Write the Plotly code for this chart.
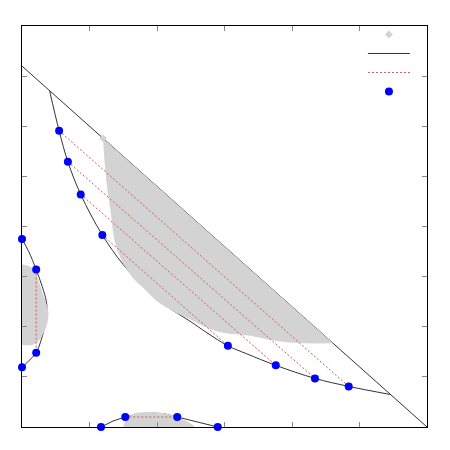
import plotly.graph_objects as go

# main binodal curve (left branch -> right branch)
main_x = [0.041, 0.055, 0.068, 0.087, 0.119, 0.150, 0.182, 0.212, 0.249, 0.274,
          0.305, 0.333, 0.376, 0.434, 0.484, 0.545]
main_y = [0.670, 0.591, 0.529, 0.464, 0.383, 0.324, 0.277, 0.243, 0.211, 0.188,
          0.162, 0.146, 0.123, 0.097, 0.081, 0.065]

# small left curve
left_x = [0.0, 0.010, 0.021, 0.030, 0.036, 0.037, 0.034, 0.028, 0.021, 0.010, 0.0]
left_y = [0.375, 0.350, 0.314, 0.280, 0.251, 0.231, 0.201, 0.172, 0.148, 0.132, 0.119]

# small bottom curve
bot_x = [0.117, 0.135, 0.153, 0.175, 0.193, 0.212, 0.230, 0.261, 0.290]
bot_y = [0.0, 0.012, 0.020, 0.026, 0.028, 0.026, 0.020, 0.010, 0.0]

# boundary line
edge_x = [0.0, 0.6]
edge_y = [0.72, 0.0]

# shaded (unstable) regions
big_x = [0.120, 0.123, 0.127, 0.132, 0.136, 0.142, 0.150, 0.164, 0.182, 0.200,
         0.224, 0.249, 0.274, 0.298, 0.338, 0.367, 0.401, 0.461]
big_y = [0.576, 0.518, 0.468, 0.423, 0.379, 0.350, 0.326, 0.298, 0.275, 0.251,
         0.231, 0.215, 0.198, 0.188, 0.182, 0.174, 0.168, 0.167]
lg_x = [0.0, 0.007, 0.016, 0.024, 0.031, 0.039, 0.037, 0.027, 0.016, 0.0]
lg_y = [0.324, 0.322, 0.316, 0.294, 0.265, 0.231, 0.205, 0.176, 0.164, 0.164]
bg_x = [0.150, 0.153, 0.164, 0.185, 0.209, 0.234, 0.253, 0.256]
bg_y = [0.0, 0.012, 0.026, 0.030, 0.028, 0.018, 0.004, 0.0]

# tie lines: (x1, y1, x2, y2)
ties = [
    (0.055, 0.591, 0.484, 0.081),
    (0.068, 0.529, 0.434, 0.097),
    (0.087, 0.464, 0.376, 0.123),
    (0.119, 0.383, 0.305, 0.162),
    (0.021, 0.314, 0.021, 0.148),
    (0.153, 0.020, 0.230, 0.020),
]

LINE = dict(color='#333', width=1)
GRAY = 'lightgray'

fig = go.Figure()

fig.add_trace(go.Scatter(x=edge_x, y=edge_y, mode='lines', line=LINE, showlegend=False))
fig.add_trace(go.Scatter(x=main_x, y=main_y, mode='lines', line=LINE, name=' ',
                         legendrank=2, line_shape='spline'))
fig.add_trace(go.Scatter(x=left_x, y=left_y, mode='lines', line=LINE, showlegend=False,
                         line_shape='spline'))
fig.add_trace(go.Scatter(x=bot_x, y=bot_y, mode='lines', line=LINE, showlegend=False))

for gx, gy in [(big_x, big_y), (lg_x, lg_y), (bg_x, bg_y)]:
    fig.add_trace(go.Scatter(x=gx, y=gy, mode='none', fill='toself', fillcolor=GRAY,
                             line_shape='spline', showlegend=False))
fig.add_trace(go.Scatter(x=big_x[:1], y=big_y[:1], mode='markers', name=' ', legendrank=1,
                         marker=dict(symbol='diamond', size=6, color=GRAY)))

tx, ty = [], []
for x1, y1, x2, y2 in ties:
    tx += [x1, x2, None]
    ty += [y1, y2, None]
fig.add_trace(go.Scatter(x=tx, y=ty, mode='lines', name=' ', legendrank=3,
                         line=dict(color='indianred', width=1, dash='2px,2px')))

px_ = [main_x[i] for i in (1, 2, 3, 4, 10, 12, 13, 14)] + \
      [left_x[i] for i in (0, 2, 8, 10)] + [bot_x[i] for i in (0, 2, 6, 8)]
py_ = [main_y[i] for i in (1, 2, 3, 4, 10, 12, 13, 14)] + \
      [left_y[i] for i in (0, 2, 8, 10)] + [bot_y[i] for i in (0, 2, 6, 8)]
fig.add_trace(go.Scatter(x=px_, y=py_, mode='markers', name=' ', legendrank=4,
                         marker=dict(color='blue', size=8), cliponaxis=False))

axis = dict(showgrid=False, zeroline=False, showticklabels=False, ticks='inside',
            ticklen=5, tickcolor='#888', showline=True, linecolor='black',
            linewidth=1, mirror='ticks', dtick=0.1)
fig.update_xaxes(range=[0, 0.6], **axis)
fig.update_yaxes(range=[0, 0.8], **axis)

fig.update_layout(
    width=450, height=450,
    margin=dict(l=14, r=31, t=14, b=31),
    plot_bgcolor='white', paper_bgcolor='white',
    font=dict(family='DejaVu Sans', size=8),
    legend=dict(x=0.99, y=1.015, xanchor='right', yanchor='top',
                bgcolor='rgba(0,0,0,0)', itemwidth=42),
)

fig.write_html("out.html")
